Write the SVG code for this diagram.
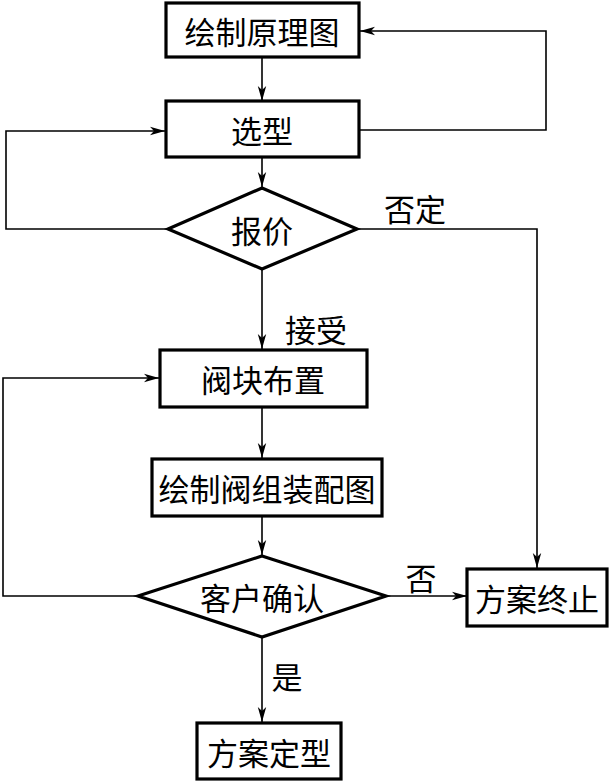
<svg xmlns="http://www.w3.org/2000/svg" width="614" height="781" viewBox="0 0 614 781">
<defs>
<marker id="arr" markerWidth="16" markerHeight="10" refX="15" refY="5" orient="auto" markerUnits="userSpaceOnUse">
<path d="M15,5 L0,0.8 L4,5 L0,9.2 Z" fill="#000"/>
</marker>
<style>
.node{fill:#fff;stroke:#000;stroke-width:3.2}
.lbl{font-family:"Noto Sans CJK SC","Noto Sans CJK JP",sans-serif;font-size:31px;fill:#000;text-anchor:middle;dominant-baseline:central}
.edge{fill:none;stroke:#000;stroke-width:1.6}
</style>
</defs>
<rect width="614" height="781" fill="#fff"/>
<g id="connectors">
<line class="edge" x1="262" y1="57" x2="262" y2="101" marker-end="url(#arr)"/>
<polyline class="edge" points="359,130 546,130 546,31 360,31" marker-end="url(#arr)"/>
<line class="edge" x1="262" y1="157" x2="262" y2="187" marker-end="url(#arr)"/>
<polyline class="edge" points="168,229 6,229 6,131 165,131" marker-end="url(#arr)"/>
<polyline class="edge" points="357,229 537,229 537,568" marker-end="url(#arr)"/>
<line class="edge" x1="262" y1="269" x2="262" y2="349" marker-end="url(#arr)"/>
<line class="edge" x1="262" y1="407" x2="262" y2="458" marker-end="url(#arr)"/>
<line class="edge" x1="262" y1="516" x2="262" y2="555" marker-end="url(#arr)"/>
<polyline class="edge" points="138,596 3,596 3,378 159,378" marker-end="url(#arr)"/>
<line class="edge" x1="386" y1="596" x2="467" y2="596" marker-end="url(#arr)"/>
<line class="edge" x1="262" y1="638" x2="262" y2="722" marker-end="url(#arr)"/>
<text class="lbl" x="415" y="207">否定</text>
<text class="lbl" x="316" y="328">接受</text>
<text class="lbl" x="421" y="576">否</text>
<text class="lbl" x="287" y="675">是</text>
</g>
<g id="n1"><rect class="node" x="166" y="3" width="193" height="54"/><text class="lbl" x="262" y="30">绘制原理图</text></g>
<g id="n2"><rect class="node" x="166" y="101" width="193" height="56"/><text class="lbl" x="262" y="129">选型</text></g>
<g id="n3"><polygon class="node" points="262,188 357,229 262,269 168,229"/><text class="lbl" x="262" y="229">报价</text></g>
<g id="n4"><rect class="node" x="160" y="350" width="207" height="57"/><text class="lbl" x="263" y="378">阀块布置</text></g>
<g id="n5"><rect class="node" x="152" y="459" width="230" height="57"/><text class="lbl" x="267" y="487">绘制阀组装配图</text></g>
<g id="n6"><polygon class="node" points="262,556 386,596 262,637 138,596"/><text class="lbl" x="262" y="596">客户确认</text></g>
<g id="n7"><rect class="node" x="467" y="569" width="140" height="57"/><text class="lbl" x="537" y="597">方案终止</text></g>
<g id="n8"><rect class="node" x="197" y="723" width="144" height="56"/><text class="lbl" x="269" y="751">方案定型</text></g>
</svg>
